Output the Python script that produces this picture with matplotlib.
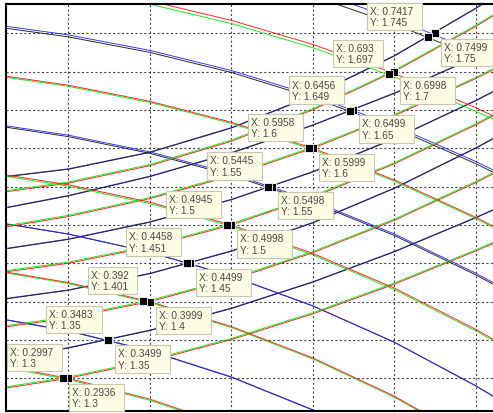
import matplotlib.pyplot as plt

# abscissae shared by every traced branch
xs = [0.22, 0.30, 0.40, 0.50, 0.60, 0.70, 0.80, 0.83]

# rising branches, one row per crossing level (1.35 ... 1.75)
k_up_black = [
    [1.3256, 1.3394, 1.3622, 1.3909, 1.4253, 1.4649, 1.5093, 1.5235],
    [1.4030, 1.4147, 1.4363, 1.4656, 1.5027, 1.5476, 1.6001, 1.6174],
    [1.4682, 1.4811, 1.5035, 1.5328, 1.5690, 1.6121, 1.6620, 1.6784],
    [1.5215, 1.5378, 1.5630, 1.5937, 1.6299, 1.6715, 1.7186, 1.7339],
    [1.5624, 1.5726, 1.5945, 1.6263, 1.6683, 1.7203, 1.7823, 1.8028],
]
k_up_blue = [
    [1.3262, 1.3400, 1.3628, 1.3915, 1.4259, 1.4655, 1.5099, 1.5241],
    [1.4036, 1.4153, 1.4369, 1.4662, 1.5033, 1.5482, 1.6007, 1.6180],
    [1.4688, 1.4817, 1.5041, 1.5334, 1.5696, 1.6127, 1.6626, 1.6790],
    [1.5221, 1.5384, 1.5636, 1.5943, 1.6305, 1.6721, 1.7192, 1.7345],
    [1.5630, 1.5732, 1.5951, 1.6269, 1.6689, 1.7209, 1.7829, 1.8034],
]
# rising branches, crossing levels 1.3 ... 1.7
r_up_red = [
    [1.2866, 1.3000, 1.3223, 1.3504, 1.3840, 1.4227, 1.4660, 1.4799],
    [1.3665, 1.3786, 1.4000, 1.4284, 1.4637, 1.5060, 1.5552, 1.5713],
    [1.4383, 1.4500, 1.4713, 1.5000, 1.5361, 1.5796, 1.6305, 1.6472],
    [1.4968, 1.5110, 1.5343, 1.5640, 1.6000, 1.6424, 1.6910, 1.7069],
    [1.5427, 1.5545, 1.5773, 1.6092, 1.6501, 1.7000, 1.7589, 1.7783],
]
r_up_green = [
    [1.2881, 1.3015, 1.3238, 1.3519, 1.3855, 1.4242, 1.4675, 1.4814],
    [1.3680, 1.3801, 1.4015, 1.4299, 1.4652, 1.5075, 1.5567, 1.5728],
    [1.4398, 1.4515, 1.4728, 1.5015, 1.5376, 1.5811, 1.6320, 1.6487],
    [1.4983, 1.5125, 1.5358, 1.5655, 1.6015, 1.6439, 1.6925, 1.7084],
    [1.5442, 1.5560, 1.5788, 1.6107, 1.6516, 1.7015, 1.7604, 1.7798],
]

# falling branches
k_down_blue = [
    [1.3772, 1.3620, 1.3360, 1.3019, 1.2590, 1.2062, 1.1424, 1.1208],
    [1.5022, 1.4883, 1.4646, 1.4335, 1.3946, 1.3472, 1.2903, 1.2713],
    [1.6299, 1.6171, 1.5953, 1.5668, 1.5313, 1.4883, 1.4370, 1.4199],
    [1.7597, 1.7479, 1.7277, 1.7015, 1.6688, 1.6294, 1.5827, 1.5672],
    [1.8899, 1.8788, 1.8601, 1.8358, 1.8055, 1.7692, 1.7263, 1.7120],
]
k_down_black = [
    [1.3768, 1.3616, 1.3355, 1.3014, 1.2585, 1.2057, 1.1419, 1.1203],
    [1.5019, 1.4880, 1.4643, 1.4332, 1.3943, 1.3469, 1.2900, 1.2710],
    [1.6281, 1.6152, 1.5934, 1.5649, 1.5293, 1.4863, 1.4349, 1.4178],
    [1.7571, 1.7453, 1.7251, 1.6989, 1.6661, 1.6266, 1.5799, 1.5643],
    [1.8833, 1.8722, 1.8534, 1.8290, 1.7986, 1.7621, 1.7191, 1.7047],
]
r_down_red = [
    [1.3159, 1.3000, 1.2728, 1.2369, 1.1916, 1.1358, 1.0677, 1.0446],
    [1.4393, 1.4248, 1.4000, 1.3675, 1.3266, 1.2767, 1.2166, 1.1963],
    [1.5658, 1.5524, 1.5297, 1.5000, 1.4629, 1.4177, 1.3638, 1.3458],
    [1.6946, 1.6823, 1.6613, 1.6340, 1.6000, 1.5588, 1.5100, 1.4937],
    [1.8231, 1.8116, 1.7922, 1.7669, 1.7355, 1.6976, 1.6529, 1.6380],
]
r_down_green = [
    [1.3145, 1.2985, 1.2713, 1.2354, 1.1900, 1.1341, 1.0659, 1.0427],
    [1.4381, 1.4236, 1.3987, 1.3662, 1.3253, 1.2753, 1.2152, 1.1948],
    [1.5640, 1.5506, 1.5279, 1.4982, 1.4610, 1.4158, 1.3618, 1.3438],
    [1.6931, 1.6808, 1.6598, 1.6325, 1.5984, 1.5572, 1.5083, 1.4920],
    [1.8190, 1.8075, 1.7880, 1.7627, 1.7312, 1.6932, 1.6483, 1.6334],
]

# data cursors at the crossings
tip_x_a = [0.2997, 0.3499, 0.3999, 0.4499, 0.4998, 0.5498, 0.5999, 0.6499, 0.6998, 0.7499]
tip_y_a = [1.3, 1.35, 1.4, 1.45, 1.5, 1.55, 1.6, 1.65, 1.7, 1.75]
tip_x_b = [0.2936, 0.3483, 0.392, 0.4458, 0.4945, 0.5445, 0.5958, 0.6456, 0.693, 0.7417]
tip_y_b = [1.3, 1.35, 1.401, 1.451, 1.5, 1.55, 1.6, 1.649, 1.697, 1.745]

x_grid = [0.3, 0.4, 0.5, 0.6, 0.7, 0.8]
y_grid = [1.3, 1.35, 1.4, 1.45, 1.5, 1.55, 1.6, 1.65, 1.7, 1.75]

fig = plt.figure(figsize=(4.93, 4.14), dpi=100)
ax = fig.add_axes([6 / 493, 2.3 / 414, 494 / 493, 406.7 / 414])
ax.set_xlim(0.2236, 0.8297)
ax.set_ylim(1.2577, 1.7882)

ax.set_xticks(x_grid)
ax.set_yticks(y_grid)
ax.tick_params(length=0, labelbottom=False, labelleft=False)
ax.grid(True, color='#3a3a3a', linestyle=(0, (1.8, 2.2)), linewidth=0.8)
ax.set_axisbelow(True)
for sp in ax.spines.values():
    sp.set_linewidth(1.5)
    sp.set_color('black')

lw = 0.65
black, blue, red, green = '#1e1e1e', '#2a2aff', '#ff1a1a', '#10e810'
for rows, col in [(k_up_blue, blue), (k_up_black, black),
                  (k_down_black, black), (k_down_blue, blue),
                  (r_up_red, red), (r_up_green, green),
                  (r_down_green, green), (r_down_red, red)]:
    for ys in rows:
        ax.plot(xs, ys, color=col, lw=lw, zorder=2)

box = dict(boxstyle='square,pad=0.3', fc='#fdfde6', ec='#c8c8b0', lw=0.8)
txt_kw = dict(textcoords='offset pixels', fontsize=7.3, family='Liberation Sans',
              color='#484848', bbox=box, zorder=5, annotation_clip=False,
              multialignment='left', linespacing=1.15)


def datatip(x, y, side):
    label = f'X: {x:.4g}  \nY: {y:.4g}'
    if side == 'ul':
        ax.annotate(label, (x, y), xytext=(-9, 10), ha='right', va='bottom', **txt_kw)
    else:
        ax.annotate(label, (x, y), xytext=(9, -8.5), ha='left', va='top', **txt_kw)


for i in range(len(tip_x_a)):
    first = i == 0
    datatip(tip_x_a[i], tip_y_a[i], 'ul' if first else 'dr')
    datatip(tip_x_b[i], tip_y_b[i], 'dr' if first else 'ul')

ax.plot(tip_x_a, tip_y_a, 's', ms=5.5, mfc='black', mec='white', mew=0.6,
        ls='none', zorder=6, clip_on=False)
ax.plot(tip_x_b, tip_y_b, 's', ms=5.5, mfc='black', mec='white', mew=0.6,
        ls='none', zorder=6, clip_on=False)

fig.savefig('out.png', dpi=100)
